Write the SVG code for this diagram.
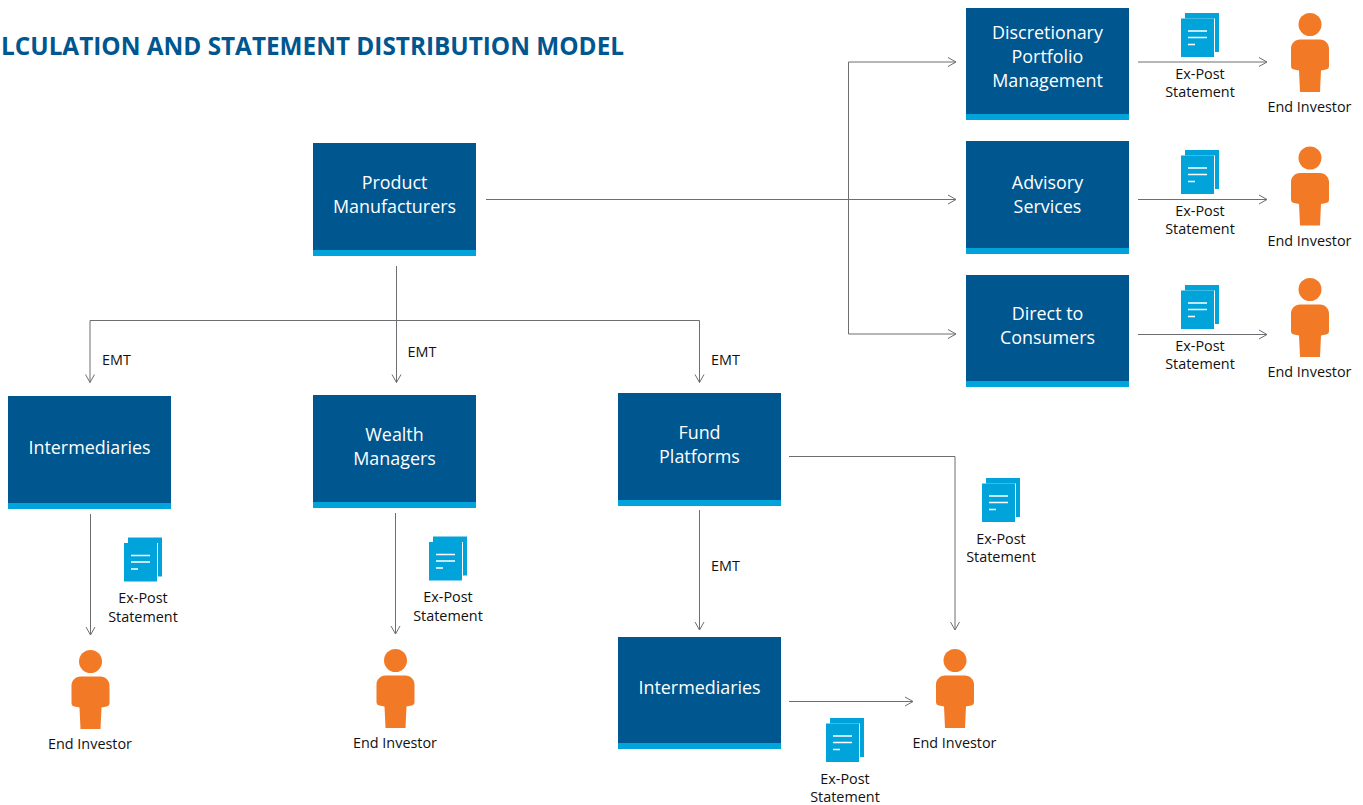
<svg xmlns="http://www.w3.org/2000/svg" width="1363" height="805" viewBox="0 0 1363 805">
<style>
text{font-family:"Open Sans","Noto Sans","Liberation Sans",sans-serif}
.box{fill:#00568f}.bar{fill:#00a3da}
.nl{fill:#fff;font-size:17.9px;text-anchor:middle}
.lb{fill:#111;font-size:14.4px;text-anchor:middle}
.title{fill:#00568f;font-size:24.5px;font-weight:700}
.c{fill:none;stroke:#6d6e71;stroke-width:1;marker-end:url(#a)}
.w{stroke:#fff;stroke-width:1.3;fill:none}
</style>
<defs>
<marker id="a" markerUnits="userSpaceOnUse" markerWidth="12" markerHeight="12" refX="9" refY="6" orient="auto"><path d="M1 1.500L9 6L1 10.500" fill="none" stroke="#6d6e71" stroke-width="1"/></marker>
<g id="person"><circle cx="0" cy="0" r="11.500" fill="#f27a27"/><path d="M-10 15H10C15 15 19 19 19 24V41.500Q19 44.500 16 45L11 46L10 67.500H-10L-11 46L-16 45Q-19 44.500 -19 41.500V24C-19 19 -15 15 -10 15Z" fill="#f27a27"/></g>
<g id="doc"><path d="M4 -5.500H38V33.500H34V0H4Z" fill="#00a3da"/><rect x="0" y="0" width="33" height="38.500" fill="#00a3da"/><path class="w" d="M7 12.500H26M7 19H26M7 26H14"/></g>
</defs>
<text class="title" x="1" y="55" textLength="623" lengthAdjust="spacingAndGlyphs">LCULATION AND STATEMENT DISTRIBUTION MODEL</text>
<g id="connectors">
<path class="c" d="M1138 62H1267"/>
<path class="c" d="M1138 199.500H1267"/>
<path class="c" d="M1138 334.500H1267"/>
<path class="c" d="M486 199.500H956"/>
<path class="c" d="M848.500 199.500V62H956"/>
<path class="c" d="M848.500 199.500V334H956"/>
<path class="c" d="M396.500 266V382.500"/>
<path class="c" d="M396.500 320.500H90V382.500"/>
<path class="c" d="M396.500 320.500H699.500V382.500"/>
<path class="c" d="M90.500 514V635"/>
<path class="c" d="M395.500 513V634"/>
<path class="c" d="M699.500 510V630"/>
<path class="c" d="M789 456.500H955V630"/>
<path class="c" d="M789 701.500H913"/>
</g>
<g id="node-product"><rect class="box" x="313" y="143" width="163" height="113"/><rect class="bar" x="313" y="250" width="163" height="6"/><text class="nl" x="394.500" y="189">Product</text><text class="nl" x="394.500" y="213">Manufacturers</text></g>
<g id="node-discretionary"><rect class="box" x="966" y="8" width="163" height="112"/><rect class="bar" x="966" y="114" width="163" height="6"/><text class="nl" x="1047.500" y="39">Discretionary</text><text class="nl" x="1047.500" y="63">Portfolio</text><text class="nl" x="1047.500" y="87">Management</text></g>
<g id="node-advisory"><rect class="box" x="966" y="141" width="163" height="113"/><rect class="bar" x="966" y="248" width="163" height="6"/><text class="nl" x="1047.500" y="189">Advisory</text><text class="nl" x="1047.500" y="213">Services</text></g>
<g id="node-direct"><rect class="box" x="966" y="275" width="163" height="112"/><rect class="bar" x="966" y="381" width="163" height="6"/><text class="nl" x="1047.500" y="320">Direct to</text><text class="nl" x="1047.500" y="344">Consumers</text></g>
<g id="node-intermediaries-1"><rect class="box" x="8" y="396" width="163" height="113"/><rect class="bar" x="8" y="503" width="163" height="6"/><text class="nl" x="89.500" y="454">Intermediaries</text></g>
<g id="node-wealth"><rect class="box" x="313" y="395" width="163" height="113"/><rect class="bar" x="313" y="502" width="163" height="6"/><text class="nl" x="394.500" y="441">Wealth</text><text class="nl" x="394.500" y="465">Managers</text></g>
<g id="node-platforms"><rect class="box" x="618" y="393" width="163" height="113"/><rect class="bar" x="618" y="500" width="163" height="6"/><text class="nl" x="699.500" y="439">Fund</text><text class="nl" x="699.500" y="463">Platforms</text></g>
<g id="node-intermediaries-2"><rect class="box" x="618" y="637" width="163" height="112"/><rect class="bar" x="618" y="743" width="163" height="6"/><text class="nl" x="699.500" y="694">Intermediaries</text></g>
<g id="labels-emt"><text class="lb" x="116.500" y="365">EMT</text><text class="lb" x="422" y="357">EMT</text><text class="lb" x="725.500" y="365">EMT</text><text class="lb" x="725.500" y="571">EMT</text></g>
<g id="statement-1"><use href="#doc" x="1181" y="18.500"/><text class="lb" x="1200" y="79">Ex-Post</text><text class="lb" x="1200" y="97">Statement</text></g>
<g id="statement-2"><use href="#doc" x="1181" y="155.500"/><text class="lb" x="1200" y="216">Ex-Post</text><text class="lb" x="1200" y="234">Statement</text></g>
<g id="statement-3"><use href="#doc" x="1181" y="290.500"/><text class="lb" x="1200" y="351">Ex-Post</text><text class="lb" x="1200" y="369">Statement</text></g>
<g id="statement-4"><use href="#doc" x="124" y="543"/><text class="lb" x="143" y="603">Ex-Post</text><text class="lb" x="143" y="622">Statement</text></g>
<g id="statement-5"><use href="#doc" x="429" y="542"/><text class="lb" x="448" y="602">Ex-Post</text><text class="lb" x="448" y="621">Statement</text></g>
<g id="statement-6"><use href="#doc" x="982" y="483.500"/><text class="lb" x="1001" y="544">Ex-Post</text><text class="lb" x="1001" y="562">Statement</text></g>
<g id="statement-7"><use href="#doc" x="826" y="723.500"/><text class="lb" x="845" y="784">Ex-Post</text><text class="lb" x="845" y="802">Statement</text></g>
<g id="investor-1"><use href="#person" x="1310" y="24.500"/><text class="lb" x="1309.500" y="112">End Investor</text></g>
<g id="investor-2"><use href="#person" x="1310" y="158"/><text class="lb" x="1309.500" y="246">End Investor</text></g>
<g id="investor-3"><use href="#person" x="1310" y="289.500"/><text class="lb" x="1309.500" y="377">End Investor</text></g>
<g id="investor-4"><use href="#person" x="90.500" y="661.500"/><text class="lb" x="90" y="749">End Investor</text></g>
<g id="investor-5"><use href="#person" x="395.500" y="660.500"/><text class="lb" x="395" y="748">End Investor</text></g>
<g id="investor-6"><use href="#person" x="955" y="660.500"/><text class="lb" x="954.500" y="748">End Investor</text></g>
</svg>
